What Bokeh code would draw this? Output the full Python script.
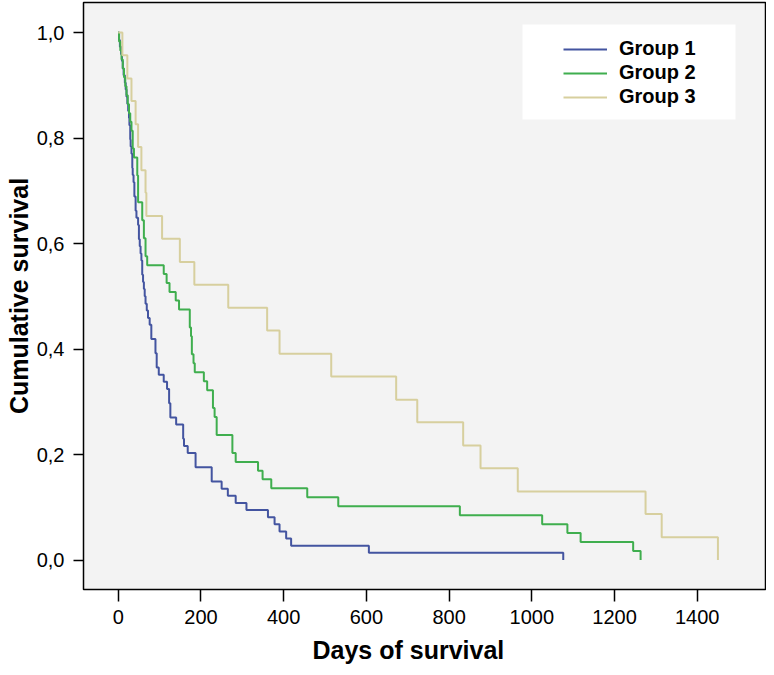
from bokeh.plotting import figure
from bokeh.models import (Range1d, FixedTicker, CustomJSTickFormatter, Legend,
                          LegendItem, BoxAnnotation, Title)
from bokeh.embed import file_html
from bokeh.resources import INLINE

# ---------------- data ----------------
group_names = ["Group 1", "Group 2", "Group 3"]
group_colors = ["#4354a0", "#3fae4e", "#d7cf9e"]

days_g1 = [0, 2, 4, 7, 9, 11, 13, 16, 18, 20, 22, 24, 26, 27, 29, 30, 32, 34, 35, 37,
           39, 42, 44, 48, 50, 52, 54, 56, 58, 60, 62, 64, 66, 69, 72, 76, 80, 90, 93, 98,
           110, 118, 123, 126, 140, 157, 159, 168, 187, 226, 250, 265, 284, 310, 362,
           378, 390, 406, 418, 606, 1076]
surv_g1 = [1.0, 0.986, 0.973, 0.959, 0.946, 0.932, 0.919, 0.905, 0.892, 0.878, 0.865,
           0.851, 0.838, 0.824, 0.797, 0.784, 0.770, 0.743, 0.730, 0.716, 0.689, 0.662,
           0.649, 0.635, 0.608, 0.595, 0.581, 0.568, 0.541, 0.527, 0.514, 0.500, 0.486,
           0.473, 0.459, 0.446, 0.419, 0.392, 0.365, 0.351, 0.338, 0.324, 0.297, 0.270,
           0.257, 0.230, 0.216, 0.203, 0.176, 0.149, 0.135, 0.122, 0.108, 0.095, 0.081,
           0.068, 0.054, 0.041, 0.027, 0.014, 0.0]

days_g2 = [0, 2, 5, 8, 11, 14, 17, 20, 23, 26, 29, 32, 35, 38, 46, 48, 58, 62, 66, 70,
           110, 117, 124, 139, 147, 173, 176, 178, 182, 185, 207, 215, 229, 233, 238,
           276, 284, 338, 349, 370, 457, 532, 826, 1025, 1086, 1118, 1245, 1263]
surv_g2 = [1.0, 0.983, 0.966, 0.949, 0.932, 0.915, 0.898, 0.881, 0.864, 0.847, 0.831,
           0.814, 0.780, 0.763, 0.729, 0.678, 0.644, 0.610, 0.576, 0.559, 0.542, 0.525,
           0.508, 0.492, 0.475, 0.441, 0.424, 0.390, 0.373, 0.356, 0.339, 0.322, 0.288,
           0.271, 0.237, 0.203, 0.186, 0.169, 0.153, 0.136, 0.119, 0.102, 0.085, 0.068,
           0.051, 0.034, 0.017, 0.0]

days_g3 = [0, 10, 22, 32, 42, 48, 56, 66, 68, 106, 149, 184, 266, 360, 390, 515, 672,
           723, 834, 876, 966, 1275, 1314, 1450]
surv_g3 = [1.0, 0.957, 0.913, 0.870, 0.826, 0.783, 0.739, 0.696, 0.652, 0.609, 0.565,
           0.522, 0.478, 0.435, 0.391, 0.348, 0.304, 0.261, 0.217, 0.174, 0.130, 0.087,
           0.043, 0.0]

x_ticks = [0, 200, 400, 600, 800, 1000, 1200, 1400]
y_ticks = [0.0, 0.2, 0.4, 0.6, 0.8, 1.0]

FONT = "Liberation Sans"

p = figure(width=766, height=675,
           x_range=Range1d(-84, 1565), y_range=Range1d(-0.0559, 1.0569),
           output_backend="svg", toolbar_location=None,
           min_border_left=83, min_border_right=1, min_border_top=2,
           min_border_bottom=86)

p.background_fill_color = "#f3f3f3"
p.border_fill_color = "white"
p.outline_line_color = "black"
p.outline_line_width = 1.5
p.xgrid.visible = False
p.ygrid.visible = False

series = [(days_g1, surv_g1), (days_g2, surv_g2), (days_g3, surv_g3)]
renderers = []
for (dx, sy), col in zip(series, group_colors):
    r = p.step(dx, sy, mode="after", line_color=col, line_width=2)
    renderers.append(r)

# axes
xa = p.xaxis[0]
ya = p.yaxis[0]
xa.ticker = FixedTicker(ticks=x_ticks)
ya.ticker = FixedTicker(ticks=y_ticks)
ya.formatter = CustomJSTickFormatter(code="return tick.toFixed(1).replace('.', ',');")
for ax in (xa, ya):
    ax.axis_line_color = None
    ax.minor_tick_line_color = None
    ax.major_tick_in = 0
    ax.major_tick_line_color = "black"
    ax.major_tick_line_width = 1.5
    ax.major_label_text_font = FONT
    ax.major_label_text_font_size = "20px"
    ax.major_label_text_color = "black"
    ax.axis_label_text_font = FONT
    ax.axis_label_text_font_size = "25px"
    ax.axis_label_text_font_style = "bold"
    ax.axis_label_text_color = "black"
xa.major_tick_out = 12
ya.major_tick_out = 10
xa.major_label_standoff = 8
ya.major_label_standoff = 9
ya.axis_label = "Cumulative survival"
ya.axis_label_standoff = 1

xtitle = Title(text="Days of survival", align="left", offset=229,
               text_font=FONT, text_font_size="25px", text_font_style="bold",
               text_color="black", standoff=15)
p.add_layout(xtitle, "below")

# legend box
box = BoxAnnotation(left=522, right=735, top=24, bottom=119,
                    left_units="canvas", right_units="canvas",
                    top_units="canvas", bottom_units="canvas",
                    fill_color="white", fill_alpha=1.0, line_alpha=0)
p.add_layout(box)

legend = Legend(items=[LegendItem(label=n, renderers=[r])
                       for n, r in zip(group_names, renderers)],
                location=(470, 471))
legend.background_fill_alpha = 0
legend.border_line_alpha = 0
legend.padding = 10
legend.spacing = 1
legend.glyph_width = 44
legend.glyph_height = 22
legend.label_height = 22
legend.label_standoff = 12
legend.label_text_font = FONT
legend.label_text_font_style = "bold"
legend.label_text_font_size = "20px"
legend.label_text_color = "black"
p.add_layout(legend)

open("out.html", "w").write(file_html(p, INLINE))
